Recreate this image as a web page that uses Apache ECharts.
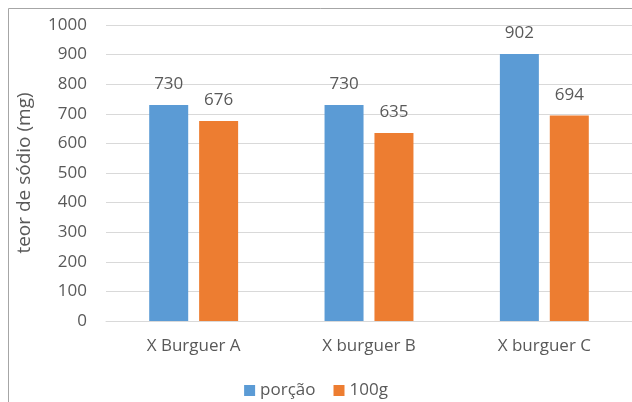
<!DOCTYPE html>
<html>
<head>
<meta charset="utf-8">
<script src="https://cdn.jsdelivr.net/npm/echarts@6/dist/echarts.min.js"></script>
<style>
  html, body { margin: 0; padding: 0; background: #fff; }
  #chart { width: 632px; height: 402px; }
</style>
</head>
<body>
<div id="chart"></div>
<script>
// Sodium content per product: per serving and per 100 g
const categories = ['X Burguer A', 'X burguer B', 'X burguer C'];
const porcao = [730, 730, 902];
const cemGramas = [676, 635, 694];
const yTicks = { min: 0, max: 1000, interval: 100 };

const textColor = '#595959';
const fontFamily = '"Open Sans", Lato, sans-serif';

const chart = echarts.init(document.getElementById('chart'), null, { renderer: 'canvas' });

chart.setOption({
  backgroundColor: '#ffffff',
  animation: false,
  textStyle: { fontFamily: fontFamily, color: textColor },
  graphic: [{
    type: 'rect',
    shape: { x: 8.5, y: 8.5, width: 700, height: 500 },
    style: { fill: 'none', stroke: '#a6a6a6', lineWidth: 1 },
    silent: true
  }],
  grid: { left: 106, right: 0, top: 25, bottom: 81, containLabel: false },
  legend: {
    bottom: -2,
    left: 'center',
    itemWidth: 11,
    itemHeight: 11,
    itemGap: 18,
    icon: 'rect',
    textStyle: { fontSize: 17, color: textColor, fontFamily: fontFamily },
    data: ['porção', '100g']
  },
  xAxis: {
    type: 'category',
    data: categories,
    axisLine: { show: true, lineStyle: { color: '#d9d9d9', width: 1 } },
    axisTick: { show: false },
    axisLabel: { fontSize: 17, color: textColor, margin: 17, fontFamily: fontFamily }
  },
  yAxis: {
    type: 'value',
    min: yTicks.min,
    max: yTicks.max,
    interval: yTicks.interval,
    name: 'teor de sódio (mg)',
    nameLocation: 'middle',
    nameGap: 72,
    nameRotate: 90,
    nameTextStyle: { fontSize: 19, color: textColor, fontFamily: fontFamily },
    axisLine: { show: false },
    axisTick: { show: false },
    axisLabel: {
      fontSize: 17, color: textColor, margin: 19, fontFamily: fontFamily,
      formatter: (v) => String(v)
    },
    splitLine: { lineStyle: { color: '#d9d9d9', width: 1 } }
  },
  series: [
    {
      name: 'porção',
      type: 'bar',
      data: porcao,
      barWidth: 39,
      barGap: '28%',
      itemStyle: { color: '#5B9BD5' },
      label: { show: true, position: 'top', distance: 12, fontSize: 17, color: textColor, fontFamily: fontFamily }
    },
    {
      name: '100g',
      type: 'bar',
      data: cemGramas,
      barWidth: 39,
      itemStyle: { color: '#ED7D31' },
      label: { show: true, position: 'top', distance: 12, fontSize: 17, color: textColor, fontFamily: fontFamily }
    }
  ]
});
</script>
</body>
</html>
